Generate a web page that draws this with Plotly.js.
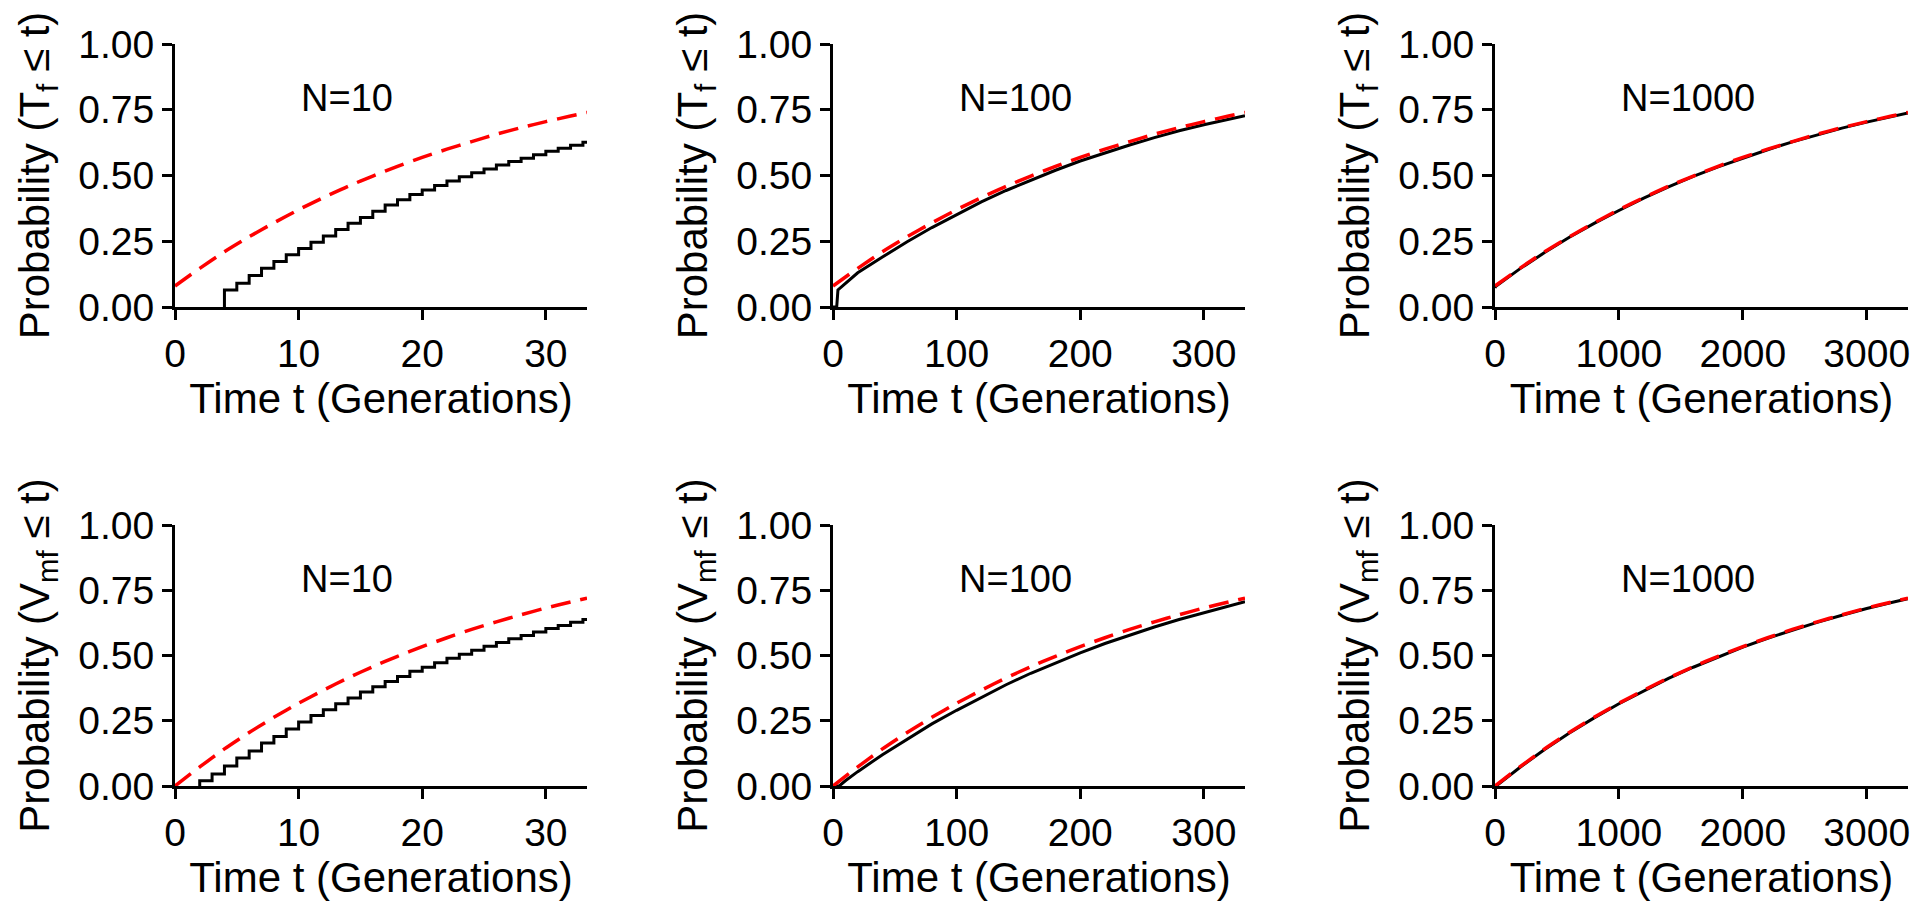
<!DOCTYPE html>
<html>
<head>
<meta charset="utf-8">
<script src="https://cdn.plot.ly/plotly-3.0.1.min.js"></script>
<style>html,body{margin:0;padding:0;background:#fff;}#chart{width:1920px;height:908px;}</style>
</head>
<body>
<div id="chart"></div>
<script>
// ---------- data ----------
// N = 10, fixation time T_f (top-left): simulated CDF (steps) and theory (dashed)
const tStepTf10 = [4, 4, 5, 6, 7, 8, 9, 10, 11, 12, 13, 14, 15, 16, 17, 18, 19, 20, 21, 22, 23, 24, 25, 26, 27, 28, 29, 30, 31, 32, 33, 33.33];
const pStepTf10 = [0, 0.065, 0.09, 0.12, 0.147, 0.173, 0.199, 0.222, 0.246, 0.27, 0.295, 0.318, 0.34, 0.364, 0.388, 0.408, 0.428, 0.445, 0.462, 0.479, 0.495, 0.51, 0.525, 0.54, 0.553, 0.566, 0.579, 0.592, 0.604, 0.615, 0.626, 0.63];
const tTheory10 = [0, 2, 4, 6, 8, 10, 12, 14, 16, 18, 20, 22, 24, 26, 28, 30, 32, 33.33];
const pTheoryTf10 = [0.08, 0.147, 0.21, 0.267, 0.32, 0.37, 0.416, 0.459, 0.498, 0.535, 0.569, 0.60, 0.629, 0.657, 0.682, 0.705, 0.726, 0.74];

// N = 100, T_f (top-middle)
const tSim100 = [0, 3, 4, 20, 40, 60, 80, 100, 120, 140, 160, 180, 200, 220, 240, 260, 280, 300, 320, 333.3];
const pSimTf100 = [0, 0, 0.065, 0.13, 0.19, 0.248, 0.302, 0.352, 0.40, 0.443, 0.483, 0.52, 0.555, 0.587, 0.616, 0.644, 0.67, 0.693, 0.714, 0.727];
const tTheory100 = [0, 20, 40, 60, 80, 100, 120, 140, 160, 180, 200, 220, 240, 260, 280, 300, 320, 333.3];
const pTheoryTf100 = [0.08, 0.147, 0.21, 0.267, 0.32, 0.37, 0.416, 0.459, 0.498, 0.535, 0.569, 0.60, 0.629, 0.657, 0.682, 0.705, 0.726, 0.74];

// N = 1000, T_f (top-right)
const tSim1000 = [0, 4, 200, 400, 600, 800, 1000, 1200, 1400, 1600, 1800, 2000, 2200, 2400, 2600, 2800, 3000, 3200, 3333];
const pSimTf1000 = [0.072, 0.078, 0.145, 0.207, 0.265, 0.318, 0.367, 0.414, 0.457, 0.497, 0.533, 0.567, 0.598, 0.628, 0.655, 0.68, 0.703, 0.724, 0.738];
const tTheory1000 = [0, 200, 400, 600, 800, 1000, 1200, 1400, 1600, 1800, 2000, 2200, 2400, 2600, 2800, 3000, 3200, 3333];
const pTheoryTf1000 = [0.08, 0.147, 0.21, 0.267, 0.32, 0.37, 0.416, 0.459, 0.498, 0.535, 0.569, 0.60, 0.629, 0.657, 0.682, 0.705, 0.726, 0.74];

// N = 10, V_mf (bottom-left)
const tStepV10 = [2, 2, 3, 4, 5, 6, 7, 8, 9, 10, 11, 12, 13, 14, 15, 16, 17, 18, 19, 20, 21, 22, 23, 24, 25, 26, 27, 28, 29, 30, 31, 32, 33, 33.33];
const pStepV10 = [0, 0.02, 0.046, 0.077, 0.107, 0.134, 0.165, 0.19, 0.218, 0.245, 0.27, 0.292, 0.315, 0.337, 0.36, 0.38, 0.40, 0.42, 0.44, 0.455, 0.472, 0.489, 0.505, 0.52, 0.535, 0.55, 0.564, 0.577, 0.59, 0.603, 0.615, 0.627, 0.638, 0.643];
const pTheoryV10 = [0, 0.073, 0.142, 0.205, 0.263, 0.317, 0.367, 0.414, 0.457, 0.497, 0.534, 0.568, 0.60, 0.629, 0.656, 0.682, 0.705, 0.72];

// N = 100, V_mf (bottom-middle)
const tSimV100 = [0, 5, 10, 20, 40, 60, 80, 100, 120, 140, 160, 180, 200, 220, 240, 260, 280, 300, 320, 333.3];
const pSimV100 = [0, 0, 0.02, 0.055, 0.12, 0.18, 0.238, 0.29, 0.34, 0.388, 0.432, 0.472, 0.51, 0.546, 0.578, 0.609, 0.638, 0.664, 0.688, 0.706];
const pTheoryV100 = [0, 0.073, 0.142, 0.205, 0.263, 0.317, 0.367, 0.414, 0.457, 0.497, 0.534, 0.568, 0.60, 0.629, 0.656, 0.682, 0.705, 0.72];

// N = 1000, V_mf (bottom-right)
const tSimV1000 = [0, 20, 200, 400, 600, 800, 1000, 1200, 1400, 1600, 1800, 2000, 2200, 2400, 2600, 2800, 3000, 3200, 3333];
const pSimV1000 = [0, 0.004, 0.071, 0.14, 0.203, 0.261, 0.315, 0.365, 0.412, 0.455, 0.495, 0.532, 0.566, 0.598, 0.627, 0.654, 0.68, 0.703, 0.718];
const pTheoryV1000 = [0, 0.073, 0.142, 0.205, 0.263, 0.317, 0.367, 0.414, 0.457, 0.497, 0.534, 0.568, 0.60, 0.629, 0.656, 0.682, 0.705, 0.72];

const panelLabels = ["N=10", "N=100", "N=1000", "N=10", "N=100", "N=1000"];
const xRanges = [33.33, 333.3, 3333, 33.33, 333.3, 3333];
const xDticks = [10, 100, 1000, 10, 100, 1000];
const yTicks = [0, 0.25, 0.5, 0.75, 1];
const xTitleText = "Time t (Generations)";
const yTitleTop = "Probability (T<sub>f</sub> \u2264 t)";
const yTitleBottom = "Probability (V<sub>mf</sub> \u2264 t)";

// ---------- styling ----------
const FONT = "Liberation Sans, Arial, sans-serif";
const black = {color: "#000", width: 3};
const redDash = {color: "#ff0000", width: 3.5, dash: "20px,10px"};

function simTrace(x, y, ax, step) {
  return {x: x, y: y, xaxis: "x" + ax, yaxis: "y" + ax, mode: "lines",
          line: Object.assign({}, black, {shape: step ? "hv" : "linear"}), hoverinfo: "skip"};
}
function theoryTrace(x, y, ax) {
  return {x: x, y: y, xaxis: "x" + ax, yaxis: "y" + ax, mode: "lines",
          line: Object.assign({}, redDash, {shape: "spline", smoothing: 0.6}), hoverinfo: "skip"};
}

const traces = [
  simTrace(tStepTf10, pStepTf10, "", true), theoryTrace(tTheory10, pTheoryTf10, ""),
  simTrace(tSim100, pSimTf100, "2", false), theoryTrace(tTheory100, pTheoryTf100, "2"),
  simTrace(tSim1000, pSimTf1000, "3", false), theoryTrace(tTheory1000, pTheoryTf1000, "3"),
  simTrace(tStepV10, pStepV10, "4", true), theoryTrace(tTheory10, pTheoryV10, "4"),
  simTrace(tSimV100, pSimV100, "5", false), theoryTrace(tTheory100, pTheoryV100, "5"),
  simTrace(tSimV1000, pSimV1000, "6", false), theoryTrace(tTheory1000, pTheoryV1000, "6")
];

const W = 1920, H = 908;
const colPx = [[175, 587], [833, 1245], [1495, 1908]];
const rowPx = [[44, 307], [525, 786]];

const layout = {
  width: W, height: H,
  margin: {l: 0, r: 0, t: 0, b: 0},
  paper_bgcolor: "#fff", plot_bgcolor: "#fff",
  showlegend: false,
  font: {family: FONT, color: "#000"},
  annotations: []
};

const labelXFrac = [0.30, 0.30, 0.30, 0.30, 0.30, 0.30];
for (let i = 0; i < 6; i++) {
  const r = Math.floor(i / 3), c = i % 3;
  const sfx = i === 0 ? "" : String(i + 1);
  layout["xaxis" + sfx] = {
    domain: [colPx[c][0] / W, colPx[c][1] / W],
    anchor: "y" + sfx,
    range: [0, xRanges[i]],
    dtick: xDticks[i], tick0: 0,
    showgrid: false, zeroline: false,
    showline: true, linecolor: "#000", linewidth: 3,
    ticks: "outside", ticklen: 10, tickwidth: 3, tickcolor: "#000",
    tickfont: {family: FONT, size: 39, color: "#000"},
    title: {text: xTitleText, font: {family: FONT, size: 42, color: "#000"}, standoff: 10}
  };
  layout["yaxis" + sfx] = {
    domain: [1 - rowPx[r][1] / H, 1 - rowPx[r][0] / H],
    anchor: "x" + sfx,
    range: [0, 1],
    tickvals: yTicks, tickformat: ".2f",
    showgrid: false, zeroline: false,
    showline: true, linecolor: "#000", linewidth: 3,
    ticks: "outside", ticklen: 10, tickwidth: 3, tickcolor: "#000",
    tickfont: {family: FONT, size: 39, color: "#000"},
    title: {text: r === 0 ? yTitleTop : yTitleBottom, font: {family: FONT, size: 42, color: "#000"}, standoff: 16}
  };
  layout.annotations.push({
    text: panelLabels[i], xref: "x" + sfx + " domain", yref: "y" + sfx,
    x: labelXFrac[i], y: 0.795, showarrow: false,
    font: {family: FONT, size: 38, color: "#000"}
  });
}

Plotly.newPlot("chart", traces, layout, {staticPlot: true, displayModeBar: false});
</script>
</body>
</html>
